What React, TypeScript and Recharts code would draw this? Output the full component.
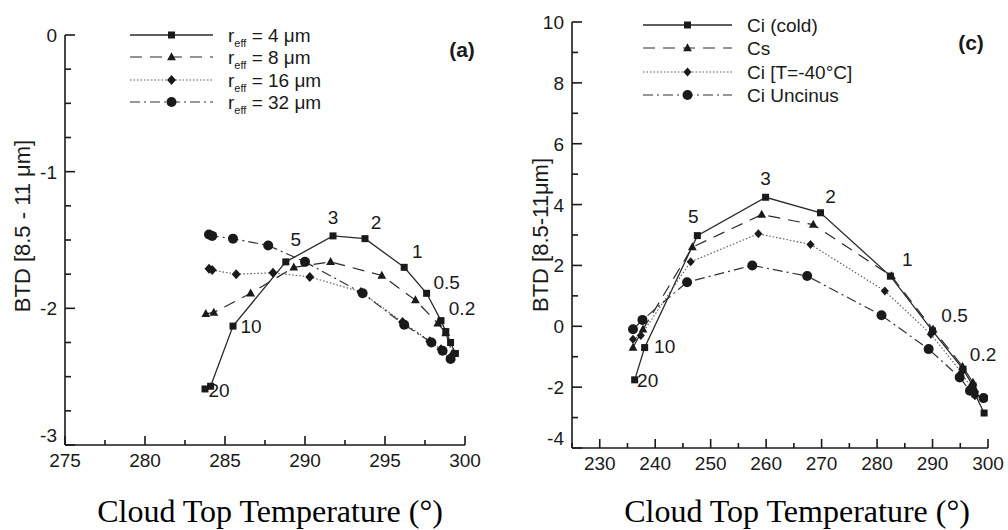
import React from 'react';
import { LineChart, Line, XAxis, YAxis } from 'recharts';

// ---- panel (a): BTD vs cloud top temperature for several effective radii ----
const tempR4 = [283.75, 284.1, 285.5, 288.8, 291.75, 293.75, 296.2, 297.6, 298.5, 298.8, 299.1, 299.4];
const btdR4 = [-2.59, -2.57, -2.13, -1.66, -1.47, -1.49, -1.7, -1.89, -2.09, -2.17, -2.25, -2.33];
const tauR4 = ['20', '', '10', '5', '3', '2', '1', '0.5', '0.2', '', '', ''];

const tempR8 = [283.8, 284.3, 286.6, 289.3, 291.6, 294.8, 296.9, 298.3, 298.8, 299.2];
const btdR8 = [-2.04, -2.03, -1.89, -1.7, -1.66, -1.76, -1.94, -2.11, -2.18, -2.33];

const tempR16 = [284.0, 284.2, 285.7, 288.0, 290.3, 293.5, 296.1, 297.8, 298.5, 299.1];
const btdR16 = [-1.71, -1.72, -1.75, -1.74, -1.77, -1.88, -2.1, -2.24, -2.3, -2.36];

const tempR32 = [284.0, 284.2, 285.5, 287.7, 290.0, 293.6, 296.2, 297.9, 298.6, 299.1];
const btdR32 = [-1.46, -1.47, -1.49, -1.54, -1.66, -1.89, -2.12, -2.25, -2.31, -2.37];

const xMajorA = [275, 280, 285, 290, 295, 300];
const xMinorA = [277.5, 282.5, 287.5, 292.5, 297.5];
const yMajorA = [0, -1, -2, -3];
const yMinorA = [-0.25, -0.5, -0.75, -1.25, -1.5, -1.75, -2.25, -2.5, -2.75];

// ---- panel (c): BTD vs cloud top temperature for several cloud types ----
const tempCold = [236.3, 238.1, 247.6, 259.9, 269.8, 282.4, 290.0, 295.5, 297.3, 297.65, 299.3];
const btdCold = [-1.76, -0.7, 2.98, 4.24, 3.73, 1.65, -0.15, -1.41, -1.96, -2.23, -2.85];
const tauCold = ['20', '10', '5', '3', '2', '1', '0.5', '0.2', '', '', ''];

const tempCs = [236.0, 237.8, 246.7, 259.2, 268.5, 282.6, 290.1, 295.4, 297.3, 297.6];
const btdCs = [-0.7, -0.1, 2.6, 3.67, 3.34, 1.65, -0.1, -1.32, -1.85, -2.07];

const tempCi40 = [236.0, 237.4, 246.4, 258.6, 268.0, 281.4, 289.7, 295.2, 296.9, 297.65];
const btdCi40 = [-0.43, -0.3, 2.12, 3.04, 2.69, 1.16, -0.26, -1.52, -2.0, -2.28];

const tempUnc = [236.0, 237.7, 245.75, 257.5, 267.4, 280.8, 289.3, 294.9, 296.75, 299.2];
const btdUnc = [-0.1, 0.21, 1.45, 2.0, 1.65, 0.36, -0.75, -1.68, -2.12, -2.36];

const xMajorC = [230, 240, 250, 260, 270, 280, 290, 300];
const xMinorC = [225, 235, 245, 255, 265, 275, 285, 295];
const yMajorC = [-4, -2, 0, 2, 4, 6, 8, 10];
const yMinorC = [-3, -1, 1, 3, 5, 7, 9];

const SANS = '"Liberation Sans", Arial, Helvetica, sans-serif';
const SERIF = '"Liberation Serif", "Times New Roman", serif';
const INK = '#1a1a1a';
const AXIS_W = 50;
const AXIS_H = 30;

type Shape = 'square' | 'triangle' | 'diamond' | 'circle';

const zip = (t: number[], b: number[], tau?: string[]) =>
  t.map((v, i) => ({ t: v, b: b[i], tau: tau ? tau[i] : '' }));

function Marker({ shape, cx, cy, s }: { shape: Shape; cx: number; cy: number; s: number }) {
  if (shape === 'square') {
    return <rect x={cx - s / 2} y={cy - s / 2} width={s} height={s} fill={INK} />;
  }
  if (shape === 'triangle') {
    return (
      <polygon
        points={`${cx},${cy - s * 0.6} ${cx - s * 0.55},${cy + s * 0.4} ${cx + s * 0.55},${cy + s * 0.4}`}
        fill={INK}
      />
    );
  }
  if (shape === 'diamond') {
    return (
      <polygon
        points={`${cx},${cy - s / 2} ${cx + s * 0.45},${cy} ${cx},${cy + s / 2} ${cx - s * 0.45},${cy}`}
        fill={INK}
      />
    );
  }
  return <circle cx={cx} cy={cy} r={s / 2} fill={INK} />;
}

const LINE_STYLES = {
  solid: { stroke: '#2a2a2a', strokeWidth: 1.3, strokeDasharray: undefined },
  dashed: { stroke: '#2a2a2a', strokeWidth: 1.2, strokeDasharray: '12 8' },
  dotted: { stroke: '#555', strokeWidth: 1.1, strokeDasharray: '1.5 2' },
  dashdot: { stroke: '#333', strokeWidth: 1.2, strokeDasharray: '10 4 2 4' },
};

interface Series {
  key: string;
  data: { t: number; b: number; tau: string }[];
  shape: Shape;
  size: number;
  line: keyof typeof LINE_STYLES;
  legend: React.ReactNode;
}

// where each optical-thickness label sits relative to its marker
const tauOffset: Record<string, [number, number]> = {
  '20': [14, 2],
  '10': [18, 0],
  '5': [10, -22],
  '3': [0, -18],
  '2': [11, -16],
  '1': [13, -16],
  '0.5': [20, -11],
  '0.2': [21, -12],
};
const tauOffsetC: Record<string, [number, number]> = {
  '20': [13, 1],
  '10': [20, -1],
  '5': [-4, -19],
  '3': [0, -19],
  '2': [10, -16],
  '1': [17, -17],
  '0.5': [22, -15],
  '0.2': [20, -15],
};

interface PanelProps {
  width: number;
  margin: { top: number; right: number; bottom: number; left: number };
  xDomain: [number, number];
  yDomain: [number, number];
  xMajor: number[];
  xMinor: number[];
  yMajor: number[];
  yMinor: number[];
  series: Series[];
  offsets: Record<string, [number, number]>;
  legendX: number;
  legendY: number[];
  legendLine: [number, number];
  tag: string;
  tagX: number;
  tagY: number;
  yTitle: React.ReactNode;
  yTitleX: number;
  yTitleY: number;
  xTitleX: number;
}

function Panel(p: PanelProps) {
  const xAll = [...p.xMajor, ...p.xMinor].sort((a, b) => a - b);
  const yAll = [...p.yMajor, ...p.yMinor].sort((a, b) => a - b);
  const yLow = Math.min(...p.yMajor);

  // ticks point into the plot, labels sit outside
  const bottomTick = (props: any) => {
    const { x, y, payload } = props;
    const major = p.xMajor.includes(payload.value);
    return (
      <g>
        <rect x={x - 0.8} y={y - (major ? 9 : 5)} width={1.6} height={major ? 9 : 5} fill={INK} />
        {major && (
          <text x={x} y={y + 22} textAnchor="middle" fontFamily={SANS} fontSize={19} fill={INK}>
            {payload.value}
          </text>
        )}
      </g>
    );
  };

  const leftTick = (props: any) => {
    const { x, y, payload } = props;
    const major = p.yMajor.includes(payload.value);
    const lift = payload.value === yLow ? -3 : 7;
    return (
      <g>
        <rect x={x} y={y - 0.8} width={major ? 10 : 6} height={1.6} fill={INK} />
        {major && (
          <text x={x - 8} y={y + lift} textAnchor="end" fontFamily={SANS} fontSize={19} fill={INK}>
            {payload.value}
          </text>
        )}
      </g>
    );
  };

  const tauLabel = (props: any) => {
    const { x, y, index } = props;
    const s = p.series[0].data[index];
    if (!s || !s.tau) return <g key={`tau-${index}`} />;
    const [dx, dy] = p.offsets[s.tau];
    return (
      <text
        key={`tau-${index}`}
        x={x + dx}
        y={y + dy}
        textAnchor="middle"
        dominantBaseline="central"
        fontFamily={SANS}
        fontSize={19}
        fill={INK}
      >
        {s.tau}
      </text>
    );
  };

  return (
    <LineChart width={p.width} height={530} margin={p.margin}>
      <XAxis
        type="number"
        dataKey="t"
        domain={p.xDomain}
        allowDataOverflow
        ticks={xAll}
        interval={0}
        height={AXIS_H}
        tickSize={0}
        tickMargin={0}
        tick={bottomTick}
        axisLine={{ stroke: INK, strokeWidth: 1.6 }}
        tickLine={false}
      />
      <YAxis
        type="number"
        dataKey="b"
        domain={p.yDomain}
        allowDataOverflow
        ticks={yAll}
        interval={0}
        width={AXIS_W}
        tickSize={0}
        tickMargin={0}
        tick={leftTick}
        axisLine={{ stroke: INK, strokeWidth: 1.6 }}
        tickLine={false}
      />
      {p.series.map((s, si) => {
        const ls = LINE_STYLES[s.line];
        return (
          <Line
            key={s.key}
            data={s.data}
            dataKey="b"
            type="linear"
            stroke={ls.stroke}
            strokeWidth={ls.strokeWidth}
            strokeDasharray={ls.strokeDasharray}
            isAnimationActive={false}
            activeDot={false}
            dot={(d: any) => (
              <g key={`${s.key}-${d.index}`}>
                <Marker shape={s.shape} cx={d.cx} cy={d.cy} s={s.size} />
              </g>
            )}
            label={si === 0 ? tauLabel : false}
          />
        );
      })}

      {/* legend */}
      <g>
        {p.series.map((s, i) => {
          const ls = LINE_STYLES[s.line];
          const y = p.legendY[i];
          const mid = (p.legendLine[0] + p.legendLine[1]) / 2;
          return (
            <g key={`leg-${s.key}`}>
              <line
                x1={p.legendLine[0]}
                x2={p.legendLine[1]}
                y1={y}
                y2={y}
                stroke={ls.stroke}
                strokeWidth={ls.strokeWidth}
                strokeDasharray={ls.strokeDasharray}
              />
              <Marker shape={s.shape} cx={mid} cy={y} s={s.size} />
              <text x={p.legendX} y={y + 7} fontFamily={SANS} fontSize={19} fill={INK}>
                {s.legend}
              </text>
            </g>
          );
        })}
      </g>

      <text x={p.tagX} y={p.tagY} textAnchor="middle" fontFamily={SANS} fontSize={21} fontWeight="bold" fill={INK}>
        {p.tag}
      </text>

      <text
        x={p.yTitleX}
        y={p.yTitleY}
        textAnchor="middle"
        dominantBaseline="central"
        transform={`rotate(-90, ${p.yTitleX}, ${p.yTitleY})`}
        fontFamily={SANS}
        fontSize={22}
        fill={INK}
      >
        {p.yTitle}
      </text>

      <text x={p.xTitleX} y={522} textAnchor="middle" fontFamily={SERIF} fontSize={32} fill="#000">
        Cloud Top Temperature (°)
      </text>
    </LineChart>
  );
}

const reff = (v: string) => (
  <>
    r
    <tspan fontSize={11} dy={5}>
      eff
    </tspan>
    <tspan dy={-5}>{` = ${v} \u03bcm`}</tspan>
  </>
);

const seriesA: Series[] = [
  { key: 'r4', data: zip(tempR4, btdR4, tauR4), shape: 'square', size: 7, line: 'solid', legend: reff('4') },
  { key: 'r8', data: zip(tempR8, btdR8), shape: 'triangle', size: 8, line: 'dashed', legend: reff('8') },
  { key: 'r16', data: zip(tempR16, btdR16), shape: 'diamond', size: 10, line: 'dotted', legend: reff('16') },
  { key: 'r32', data: zip(tempR32, btdR32), shape: 'circle', size: 10, line: 'dashdot', legend: reff('32') },
];

const seriesC: Series[] = [
  { key: 'cold', data: zip(tempCold, btdCold, tauCold), shape: 'square', size: 7, line: 'solid', legend: 'Ci (cold)' },
  { key: 'cs', data: zip(tempCs, btdCs), shape: 'triangle', size: 8, line: 'dashed', legend: 'Cs' },
  { key: 'ci40', data: zip(tempCi40, btdCi40), shape: 'diamond', size: 9, line: 'dotted', legend: 'Ci [T=-40°C]' },
  { key: 'unc', data: zip(tempUnc, btdUnc), shape: 'circle', size: 10, line: 'dashdot', legend: 'Ci Uncinus' },
];

export default function App() {
  return (
    <div style={{ position: 'absolute', left: 0, top: 0, width: 1008, height: 530, background: '#fff' }}>
      <div style={{ position: 'absolute', left: 0, top: 0 }}>
        <Panel
          width={500}
          margin={{ top: 35, right: 35, bottom: 85 - AXIS_H, left: 65 - AXIS_W }}
          xDomain={[275, 300]}
          yDomain={[-3, 0]}
          xMajor={xMajorA}
          xMinor={xMinorA}
          yMajor={yMajorA}
          yMinor={yMinorA}
          series={seriesA}
          offsets={tauOffset}
          legendX={228}
          legendY={[35, 57, 80, 102]}
          legendLine={[130, 213]}
          tag="(a)"
          tagX={462}
          tagY={57}
          yTitle="BTD [8.5 - 11 μm]"
          yTitleX={22}
          yTitleY={226}
          xTitleX={270}
        />
      </div>
      <div style={{ position: 'absolute', left: 500, top: 0 }}>
        <Panel
          width={508}
          margin={{ top: 22, right: 20, bottom: 82 - AXIS_H, left: 72 - AXIS_W }}
          xDomain={[225, 300]}
          yDomain={[-4, 10]}
          xMajor={xMajorC}
          xMinor={xMinorC}
          yMajor={yMajorC}
          yMinor={yMinorC}
          series={seriesC}
          offsets={tauOffsetC}
          legendX={247}
          legendY={[25, 48, 72, 95]}
          legendLine={[143, 232]}
          tag="(c)"
          tagX={471}
          tagY={50}
          yTitle="BTD [8.5-11μm]"
          yTitleX={40}
          yTitleY={235}
          xTitleX={297}
        />
      </div>
    </div>
  );
}
